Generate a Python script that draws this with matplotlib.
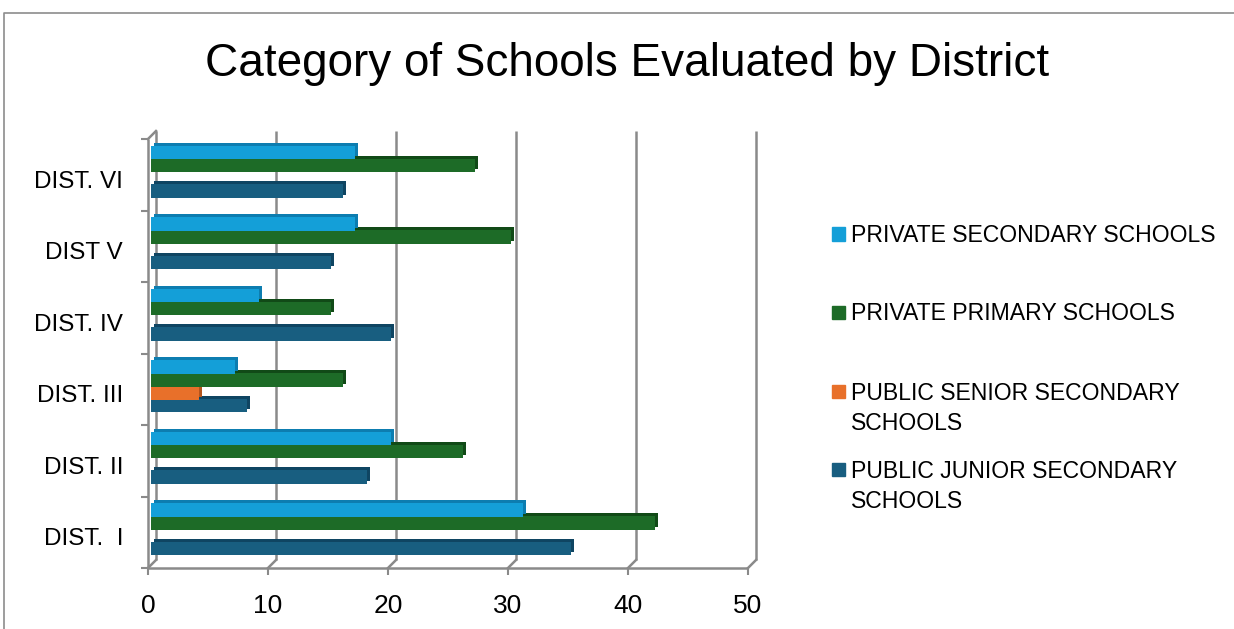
import matplotlib
matplotlib.use("Agg")
import matplotlib.pyplot as plt
import numpy as np
from matplotlib.transforms import offset_copy, IdentityTransform
from matplotlib.lines import Line2D
from matplotlib.patches import Rectangle

districts = ["DIST.  I", "DIST. II", "DIST. III", "DIST. IV", "DIST V", "DIST. VI"]
series = ["PUBLIC JUNIOR SECONDARY\nSCHOOLS", "PUBLIC SENIOR SECONDARY\nSCHOOLS",
          "PRIVATE PRIMARY SCHOOLS", "PRIVATE SECONDARY SCHOOLS"]
public_junior = [35, 18, 8, 20, 15, 16]
public_senior = [0, 0, 4, 0, 0, 0]
private_primary = [42, 26, 16, 15, 30, 27]
private_secondary = [31, 20, 7, 9, 17, 17]
x_ticks = [0, 10, 20, 30, 40, 50]

face = ["#185e80", "#e8702a", "#1d6b27", "#149fd8"]
side = ["#0f4562", "#b4541c", "#114a17", "#0d7db0"]
grid = "#8a8a8a"

plt.rcParams["font.family"] = ["Liberation Sans", "DejaVu Sans"]

W, H = 1234, 629
fig = plt.figure(figsize=(W / 100, H / 100), dpi=100)
ax = fig.add_axes([148 / W, 1 - 568 / H, 600 / W, 429 / H])
ax.set_xlim(0, 50)
ax.set_ylim(-0.5, 5.5)
for s in ax.spines.values():
    s.set_visible(False)

# bars sit a little inside the box; the darker copy behind gives the depth faces
front = offset_copy(ax.transData, fig=fig, x=3, y=0, units="dots")
depth = offset_copy(ax.transData, fig=fig, x=6, y=3, units="dots")
y = np.arange(len(districts))
step, height, lift = 0.18, 0.19, 0.04
for i, vals in enumerate([public_junior, public_senior, private_primary, private_secondary]):
    pos = y + lift + (i - 1.5) * step
    ax.barh(pos, vals, height, color=side[i], transform=depth, zorder=2 + 2 * i)
    ax.barh(pos, vals, height, color=face[i], transform=front, zorder=3 + 2 * i)

# back wall gridlines and front edges of the box
back = offset_copy(ax.transData, fig=fig, x=8, y=8, units="dots")
ax.vlines(x_ticks, -0.5, 5.5, transform=back, color=grid, lw=1.8, zorder=0, clip_on=False)
ax.vlines(0, -0.5, 5.5, color=grid, lw=1.8, zorder=1, clip_on=False)
ax.hlines(-0.5, 0, 50, color=grid, lw=1.8, zorder=1, clip_on=False)
fig.canvas.draw()
for xt, yt in [(t, -0.5) for t in x_ticks] + [(0, 5.5)]:
    p0 = ax.transData.transform((xt, yt))
    p1 = back.transform((xt, yt))
    fig.add_artist(Line2D([p0[0], p1[0]], [p0[1], p1[1]], transform=IdentityTransform(),
                          color=grid, lw=1.8, zorder=1))

ax.set_xticks(x_ticks)
ax.set_yticks(y - 0.06, districts)
ax.set_yticks(np.arange(-0.5, 6, 1), minor=True)
ax.tick_params(axis="x", length=5, width=1.5, color=grid, pad=14, labelsize=19)
ax.tick_params(axis="y", which="major", length=0, pad=18, labelsize=17.5)
ax.tick_params(axis="y", which="minor", length=5, width=1.5, color=grid)

fig.text(627 / W, 1 - 76 / H, "Category of Schools Evaluated by District",
         ha="center", va="baseline", fontsize=33)

# legend, top entry first; long names wrap onto a second line
legend_rows = [234, 312, 391, 469]
for row, i in zip(legend_rows, [3, 2, 1, 0]):
    fig.add_artist(Rectangle((832 / W, 1 - (row + 6.5) / H), 13 / W, 13 / H,
                             transform=fig.transFigure, color=face[i]))
    for k, line in enumerate(series[i].split("\n")):
        fig.text(851 / W, 1 - (row + 8.5 + 30 * k) / H, line, ha="left", va="baseline",
                 fontsize=16.6)

fig.add_artist(Line2D([4 / W, 4 / W, 1], [0, 1 - 13 / H, 1 - 13 / H],
                      transform=fig.transFigure, color="#8c8c8c", lw=1.2))

fig.savefig("out.png", dpi=100)
